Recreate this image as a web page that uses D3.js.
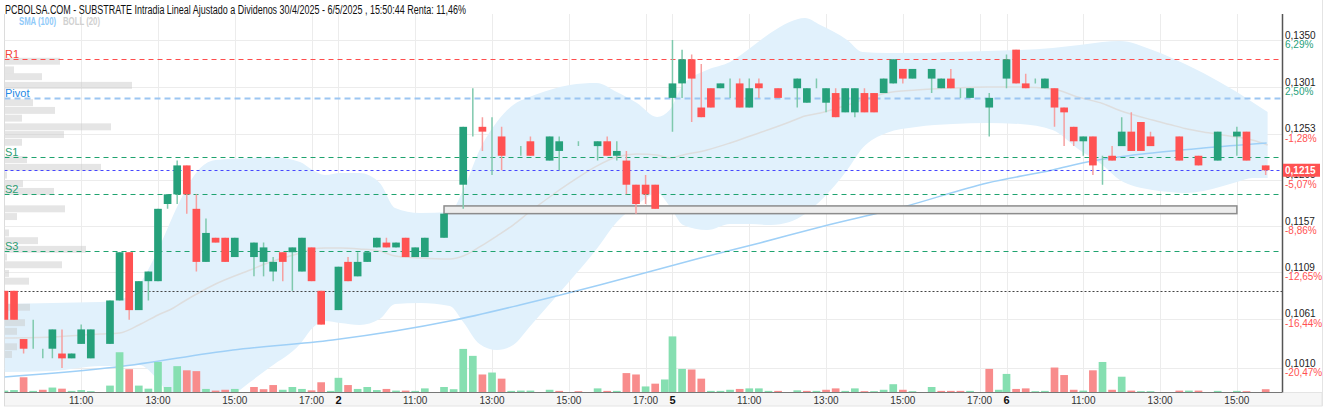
<!DOCTYPE html>
<html>
<head>
<meta charset="utf-8">
<script src="https://cdn.jsdelivr.net/npm/d3@7/dist/d3.min.js"></script>
<style>
  body { margin: 0; background: #fff; }
  svg { display: block; font-family: "Liberation Sans Narrow", "Arial Narrow", "Liberation Sans", Arial, sans-serif; }
</style>
</head>
<body>
<div id="chart"></div>
<script>
// ---- data ----
var title = "PCBOLSA.COM - SUBSTRATE Intradia Lineal Ajustado a Dividenos 30/4/2025 - 6/5/2025 , 15:50:44 Renta: 11,46%";
var days = ["1", "2", "5", "6"];
var slotsPerDay = 34.8;   // 15 min slots from 9:00, plus the overnight break

// [slot, open, high, low, close, volume]
var day1 = [
  [0, .1090, .1090, .1060, .1060, 5], [1, .1090, .1090, .1060, .1060, 7],
  [2, .1040, .1040, .1025, .1030, 53], [3, .1040, .1060, .1030, .1040, 4],
  [4, .1025, .1030, .1020, .1025, 8], [5, .1030, .1050, .1020, .1050, 16],
  [6, .1025, .1050, .1010, .1020, 12], [7, .1020, .1025, .1020, .1025, 4],
  [8, .1035, .1055, .1035, .1050, 7], [9, .1020, .1050, .1020, .1050, 3],
  [11, .1035, .1080, .1035, .1080, 23], [12, .1080, .1130, .1080, .1130, 143],
  [13, .1130, .1130, .1060, .1070, 82], [14, .1070, .1100, .1070, .1100, 23],
  [15, .1100, .1110, .1080, .1110, 12], [16, .1100, .1175, .1100, .1175, 108],
  [17, .1180, .1190, .1175, .1190, 18], [18, .1190, .1225, .1180, .1220, 93],
  [19, .1220, .1220, .1170, .1190, 78], [20, .1175, .1190, .1110, .1120, 75],
  [21, .1120, .1165, .1120, .1150, 11], [22, .1145, .1145, .1140, .1140, 5],
  [23, .1145, .1145, .1120, .1120, 8], [24, .1125, .1145, .1125, .1145, 11],
  [26, .1125, .1140, .1105, .1140, 18], [27, .1120, .1140, .1105, .1135, 10],
  [28, .1110, .1125, .1100, .1120, 25], [29, .1130, .1130, .1100, .1120, 8],
  [30, .1130, .1135, .1090, .1135, 18], [31, .1110, .1145, .1110, .1145, 11],
  [32, .1135, .1135, .1100, .1100, 6], [33, .1090, .1090, .1055, .1055, 35],
  [34, .1055, .1055, .1055, .1055, 4]
];
var day2 = [
  [0, .1070, .1115, .1070, .1115, 51], [1, .1120, .1125, .1100, .1100, 25],
  [2, .1105, .1130, .1105, .1120, 11], [3, .1120, .1130, .1120, .1130, 18],
  [4, .1135, .1145, .1135, .1145, 7], [5, .1140, .1145, .1135, .1135, 11],
  [6, .1135, .1140, .1135, .1140, 5], [7, .1145, .1145, .1125, .1125, 5],
  [8, .1125, .1135, .1125, .1135, 4], [9, .1125, .1145, .1125, .1145, 13],
  [11, .1145, .1170, .1145, .1170, 18], [12, .1170, .1170, .1170, .1170, 10],
  [13, .1200, .1260, .1175, .1260, 155], [14, .1260, .1300, .1250, .1260, 130],
  [15, .1260, .1270, .1235, .1255, 63], [16, .1255, .1270, .1210, .1255, 70],
  [17, .1250, .1260, .1215, .1230, 48], [18, .1230, .1230, .1230, .1230, 4],
  [19, .1230, .1240, .1230, .1230, 5], [20, .1245, .1250, .1230, .1230, 5],
  [22, .1225, .1250, .1225, .1250, 8], [23, .1235, .1250, .1215, .1245, 4],
  [25, .1240, .1245, .1240, .1240, 3], [27, .1240, .1245, .1225, .1245, 13],
  [28, .1245, .1250, .1230, .1230, 4], [29, .1230, .1245, .1225, .1235, 4],
  [30, .1225, .1235, .1190, .1200, 68], [31, .1200, .1200, .1170, .1180, 63],
  [32, .1200, .1210, .1180, .1190, 20], [33, .1200, .1200, .1175, .1175, 30],
  [34, .1175, .1175, .1175, .1175, 45]
];
var day5 = [
  [0, .1290, .1350, .1255, .1305, 200], [1, .1305, .1340, .1290, .1330, 83],
  [2, .1330, .1335, .1265, .1310, 81], [3, .1280, .1325, .1270, .1270, 48],
  [4, .1300, .1300, .1280, .1280, 4], [5, .1300, .1305, .1300, .1305, 4],
  [6, .1305, .1310, .1290, .1305, 8], [7, .1305, .1310, .1280, .1280, 11],
  [8, .1280, .1310, .1280, .1300, 13], [9, .1305, .1310, .1290, .1300, 13],
  [10, .1300, .1300, .1300, .1300, 4], [11, .1300, .1300, .1290, .1290, 4],
  [13, .1300, .1310, .1280, .1310, 6], [14, .1285, .1300, .1285, .1300, 4],
  [15, .1305, .1310, .1300, .1305, 4], [16, .1285, .1300, .1275, .1300, 8],
  [17, .1295, .1300, .1270, .1270, 13], [18, .1275, .1300, .1275, .1300, 4],
  [19, .1275, .1300, .1270, .1300, 13], [20, .1295, .1300, .1275, .1275, 3],
  [21, .1295, .1295, .1275, .1275, 3], [22, .1295, .1310, .1295, .1310, 8],
  [23, .1305, .1330, .1305, .1330, 28], [24, .1320, .1320, .1305, .1310, 8],
  [25, .1310, .1320, .1310, .1320, 3], [27, .1310, .1320, .1295, .1320, 18],
  [28, .1300, .1310, .1300, .1310, 4], [29, .1310, .1320, .1300, .1300, 4],
  [30, .1295, .1300, .1290, .1295, 4], [31, .1290, .1300, .1290, .1300, 4],
  [33, .1280, .1295, .1250, .1290, 83], [34, .1290, .1290, .1290, .1290, 8]
];
var day6 = [
  [0, .1310, .1335, .1300, .1330, 65], [1, .1340, .1340, .1305, .1305, 11],
  [2, .1305, .1315, .1300, .1300, 13], [3, .1305, .1310, .1305, .1305, 3],
  [4, .1300, .1310, .1300, .1310, 4], [5, .1300, .1300, .1260, .1280, 88],
  [6, .1280, .1280, .1240, .1275, 61], [7, .1260, .1260, .1240, .1245, 8],
  [8, .1245, .1250, .1230, .1250, 5], [9, .1250, .1250, .1210, .1220, 78],
  [10, .1230, .1230, .1200, .1230, 108], [11, .1230, .1240, .1225, .1225, 8],
  [12, .1240, .1270, .1240, .1255, 55], [13, .1255, .1275, .1235, .1235, 5],
  [14, .1265, .1265, .1235, .1235, 3], [15, .1250, .1255, .1240, .1240, 3],
  [18, .1250, .1250, .1225, .1225, 5], [19, .1225, .1225, .1225, .1225, 5],
  [20, .1230, .1230, .1220, .1220, 5], [22, .1225, .1255, .1225, .1255, 4],
  [24, .1250, .1260, .1230, .1255, 4], [25, .1255, .1255, .1225, .1225, 3],
  [27, .1220, .1220, .1210, .1215, 10]
];

// bollinger (20) and sma (100), sampled along the slot index
var bollG = [0, 5, 10, 12, 14, 16, 17.6, 18.6, 20.4, 22, 25.6, 27.7, 30.8, 32.1, 33.4, 35, 37, 39.1, 40.7, 43.3,
  46.4, 47.8, 49.5, 51.3, 53, 54.7, 56.8, 58.9, 61.7, 63.8, 65.9, 68, 69.3, 70.7, 73.2, 75.6, 77.7, 79.8, 81.8, 83.4,
  85, 87.8, 89.4, 91.9, 95, 98.8, 102.4, 105.8, 109.2, 112, 114.4, 116.2, 119.6, 121.4, 123, 124.9, 126.6, 128.4, 130, 131.6];
var bollUp = [0.10763, 0.10774, 0.10784, 0.10805, 0.10960, 0.11323, 0.11686, 0.11893, 0.12173, 0.12256,
  0.12277, 0.12287, 0.12235, 0.12152, 0.12101, 0.12121, 0.12121, 0.12018, 0.11759, 0.11707,
  0.11717, 0.11945, 0.12360, 0.12650, 0.12826, 0.12909, 0.12982, 0.13034, 0.13054, 0.12961,
  0.12847, 0.12702, 0.12774, 0.13034, 0.13189, 0.13272, 0.13417, 0.13572, 0.13687, 0.13728,
  0.13655, 0.13500, 0.13376, 0.13365, 0.13365, 0.13376, 0.13386, 0.13396, 0.13417, 0.13448,
  0.13479, 0.13490, 0.13396, 0.13324, 0.13251, 0.13158, 0.13065, 0.12961, 0.12857, 0.12754];
var bollLow = [0.10058, 0.10069, 0.10121, 0.10121, 0.10131, 0.09975, 0.09758, 0.09675, 0.09602, 0.09685,
  0.09955, 0.10110, 0.10349, 0.10515, 0.10587, 0.10566, 0.10546, 0.10608, 0.10763, 0.10774,
  0.10743, 0.10577, 0.10349, 0.10286, 0.10338, 0.10525, 0.10763, 0.11002, 0.11333, 0.11613,
  0.11790, 0.11914, 0.11779, 0.11582, 0.11530, 0.11593, 0.11593, 0.11582, 0.11613, 0.11696,
  0.11831, 0.12152, 0.12380, 0.12536, 0.12598, 0.12629, 0.12640, 0.12629, 0.12567, 0.12360,
  0.12204, 0.12049, 0.11945, 0.11924, 0.11914, 0.11935, 0.11976, 0.12028, 0.12069, 0.12069];
var smaG = [0, 11.7, 23.8, 34.2, 46.4, 53.7, 62, 72.5, 78.7, 85, 93.6, 102.4, 109.2, 112.8, 119.6, 124.9, 131.5];
var smaVal = [0.10007, 0.10110, 0.10287, 0.10390, 0.10587, 0.10753, 0.10960, 0.11240, 0.11396, 0.11562,
  0.11769, 0.12018, 0.12152, 0.12235, 0.12329, 0.12380, 0.12432];

// volume by price (left histogram)
var profPrice = [0.1328, 0.1319, 0.1312, 0.1303, 0.1285, 0.1277, 0.1269, 0.1260, 0.1252, 0.1244, 0.1226, 0.1218,
  0.1210, 0.1201, 0.1193, 0.1175, 0.1167, 0.1150, 0.1142, 0.1133, 0.1125, 0.1117, 0.1108, 0.1100, 0.1073,
  0.1057, 0.1048, 0.1032, 0.1024];
var profVol = [55, 9, 37, 127, 28, 50, 17, 106, 59, 17, 22, 96, 2, 18, 49, 60, 12, 4, 33, 81, 2, 57, 4, 24, 25, 20, 12, 12, 7];

// pivots and reference lines
var pivotNames = ["R1", "Pivot", "S1", "S2", "S3"];
var pivotValues = [0.1330, 0.1290, 0.1229, 0.1190, 0.1131];
var openPrice = 0.1090;
var lastPrice = 0.1215;

// gap box: from day 2 slot 11 to day 6 slot 24
var boxFrom = [1, 11], boxTo = [3, 24];
var boxTop = 0.1178, boxBottom = 0.1170;

// axes
var priceTicks = [0.1350, 0.1301, 0.1253, 0.1205, 0.1157, 0.1109, 0.1061, 0.1010];
var pctLabels = ["6,29%", "2,50%", "-1,28%", "-5,07%", "-8,86%", "-12,65%", "-16,44%", "-20,47%"];
var timeSlots = [8, 16, 24, 32];
var timeLabels = ["11:00", "13:00", "15:00", "17:00"];

// ---- chart ----
var W = 1326, H = 411;
var pLeft = 4.5, pRight = 1282, pTop = 14, pBottom = 392;
var green = "#26a17b", red = "#ff5252";

var x = d3.scaleLinear().domain([0, 133.1]).range([4.4, pRight]);
var y = d3.scaleLinear().domain([0.1010, 0.1350]).range([368, 40]);
var vy = d3.scaleLinear().domain([0, 200]).range([pBottom, pBottom - 55.6]);
var pw = d3.scaleLinear().domain([0, 127]).range([0, 127]);
var bw = x(0.8) - x(0);

var candles = [];
[day1, day2, day5, day6].forEach(function (rows, d) {
  rows.forEach(function (r) {
    candles.push({g: d * slotsPerDay + r[0], o: r[1], h: r[2], l: r[3], c: r[4], v: r[5]});
  });
});
candles.forEach(function (d, i) {
  d.up = i === 0 || d.c >= candles[i - 1].c;
});

var svg = d3.select("#chart").append("svg")
  .attr("width", W)
  .attr("height", H);

svg.append("defs").append("clipPath")
  .attr("id", "clip")
  .append("rect")
  .attr("x", pLeft).attr("y", pTop)
  .attr("width", pRight - pLeft).attr("height", pBottom - pTop);

// bottom strip and frame
svg.append("rect")
  .attr("x", pLeft).attr("y", pBottom + 0.5)
  .attr("width", 1322 - pLeft).attr("height", 13.5)
  .attr("fill", "#f6f6f6").attr("stroke", "#e4e4e4");
svg.append("line")
  .attr("x1", pLeft).attr("x2", pLeft).attr("y1", pTop).attr("y2", pBottom + 14)
  .attr("stroke", "#dcdcdc");
svg.append("line")
  .attr("x1", 1322.5).attr("x2", 1322.5).attr("y1", 0).attr("y2", pBottom + 14)
  .attr("stroke", "#e4e4e4");

var plot = svg.append("g").attr("clip-path", "url(#clip)");

// grid
var vLines = [];
days.forEach(function (d, i) {
  if (i > 0) vLines.push(i * slotsPerDay);
  timeSlots.forEach(function (s) { vLines.push(i * slotsPerDay + s); });
});
plot.selectAll("line.vgrid")
  .data(vLines)
  .enter().append("line")
  .attr("class", "vgrid")
  .attr("x1", function (d) { return Math.round(x(d)) + 0.5; })
  .attr("x2", function (d) { return Math.round(x(d)) + 0.5; })
  .attr("y1", pTop).attr("y2", pBottom)
  .attr("stroke", "#ececec");
plot.selectAll("line.hgrid")
  .data(priceTicks)
  .enter().append("line")
  .attr("class", "hgrid")
  .attr("x1", pLeft).attr("x2", pRight)
  .attr("y1", function (d) { return Math.round(y(d)) + 0.5; })
  .attr("y2", function (d) { return Math.round(y(d)) + 0.5; })
  .attr("stroke", "#ececec");

// bollinger band
var band = bollG.map(function (g, i) { return {g: g, u: bollUp[i], l: bollLow[i]}; });
plot.append("path")
  .datum(band)
  .attr("fill", "#e1f1fc")
  .attr("d", d3.area()
    .curve(d3.curveMonotoneX)
    .x(function (d) { return x(d.g); })
    .y0(function (d) { return y(d.l); })
    .y1(function (d) { return y(d.u); }));
plot.append("path")
  .datum(band)
  .attr("fill", "none")
  .attr("stroke", "#dedede")
  .attr("stroke-width", 1.5)
  .attr("d", d3.line()
    .curve(d3.curveMonotoneX)
    .x(function (d) { return x(d.g); })
    .y(function (d) { return y((d.u + d.l) / 2); }));

// sma 100
plot.append("path")
  .datum(smaG.map(function (g, i) { return [g, smaVal[i]]; }))
  .attr("fill", "none")
  .attr("stroke", "#9fd0f7")
  .attr("stroke-width", 1.5)
  .attr("d", d3.line()
    .curve(d3.curveMonotoneX)
    .x(function (d) { return x(d[0]); })
    .y(function (d) { return y(d[1]); }));

// volume profile
var binH = y(0.1010) - y(0.10172);
plot.selectAll("rect.prof")
  .data(profPrice)
  .enter().append("rect")
  .attr("class", "prof")
  .attr("x", 5)
  .attr("y", function (d) { return y(d) - binH / 2; })
  .attr("width", function (d, i) { return pw(profVol[i]); })
  .attr("height", binH)
  .attr("fill", "#c8c8c8")
  .attr("fill-opacity", 0.48);

// volume bars
plot.selectAll("rect.vol")
  .data(candles)
  .enter().append("rect")
  .attr("class", "vol")
  .attr("x", function (d) { return x(d.g) - bw / 2; })
  .attr("y", function (d) { return vy(d.v); })
  .attr("width", bw)
  .attr("height", function (d) { return pBottom - vy(d.v); })
  .attr("fill", function (d) { return d.up ? "#86dfb1" : "#f88c8c"; });

// reference lines
plot.append("line")
  .attr("x1", pLeft).attr("x2", pRight)
  .attr("y1", Math.round(y(openPrice)) + 0.5).attr("y2", Math.round(y(openPrice)) + 0.5)
  .attr("stroke", "#444").attr("stroke-dasharray", "2,2");
plot.append("line")
  .attr("x1", pLeft).attr("x2", pRight)
  .attr("y1", Math.round(y(lastPrice)) + 0.5).attr("y2", Math.round(y(lastPrice)) + 0.5)
  .attr("stroke", "#4646ff").attr("stroke-dasharray", "3,3");

var pivotColor = function (name) {
  return name === "R1" ? "#ff4d4d" : name === "Pivot" ? "#9cc6f2" : "#1fa36f";
};
plot.selectAll("line.pivot")
  .data(pivotValues)
  .enter().append("line")
  .attr("class", "pivot")
  .attr("x1", pLeft).attr("x2", pRight)
  .attr("y1", function (d) { return Math.round(y(d)) + 0.5; })
  .attr("y2", function (d) { return Math.round(y(d)) + 0.5; })
  .attr("stroke", function (d, i) { return pivotColor(pivotNames[i]); })
  .attr("stroke-width", function (d, i) { return pivotNames[i] === "Pivot" ? 2 : 1.2; })
  .attr("stroke-dasharray", function (d, i) { return pivotNames[i] === "Pivot" ? "6,4" : "5,4"; });

// gap box
var bx0 = x(boxFrom[0] * slotsPerDay + boxFrom[1]),
  bx1 = x(boxTo[0] * slotsPerDay + boxTo[1]);
plot.append("rect")
  .attr("x", bx0)
  .attr("y", y(boxTop))
  .attr("width", bx1 - bx0)
  .attr("height", y(boxBottom) - y(boxTop))
  .attr("fill", "#ededed")
  .attr("stroke", "#8c8c8c")
  .attr("stroke-width", 1.5);

// candles
var cg = plot.selectAll("g.candle")
  .data(candles)
  .enter().append("g")
  .attr("class", "candle");
cg.append("line")
  .attr("x1", function (d) { return x(d.g); })
  .attr("x2", function (d) { return x(d.g); })
  .attr("y1", function (d) { return y(d.h); })
  .attr("y2", function (d) { return y(d.l); })
  .attr("stroke", function (d) { return d.c >= d.o ? "#7fc9ad" : "#f6a0a0"; })
  .attr("stroke-width", 1.5);
cg.append("rect")
  .attr("x", function (d) { return x(d.g) - bw / 2; })
  .attr("y", function (d) { return y(Math.max(d.o, d.c)); })
  .attr("width", bw)
  .attr("height", function (d) { return Math.max(0.8, Math.abs(y(d.o) - y(d.c))); })
  .attr("fill", function (d) { return d.c >= d.o ? green : red; })
  .attr("fill-opacity", function (d) { return d.o === d.c ? 0 : 1; });

// pivot labels
svg.selectAll("text.pivot")
  .data(pivotValues)
  .enter().append("text")
  .attr("class", "pivot")
  .attr("x", 5)
  .attr("y", function (d) { return y(d) - 1; })
  .attr("font-size", 11)
  .attr("fill", function (d, i) { return pivotNames[i] === "R1" ? "#f44336" : pivotNames[i] === "Pivot" ? "#1e88e5" : "#2e9e74"; })
  .text(function (d, i) { return pivotNames[i]; });

// axes lines
svg.append("line")
  .attr("x1", pLeft).attr("x2", pRight).attr("y1", pBottom + 0.5).attr("y2", pBottom + 0.5)
  .attr("stroke", "#777");
svg.append("line")
  .attr("x1", pRight + 0.5).attr("x2", pRight + 0.5).attr("y1", pTop).attr("y2", pBottom + 0.5)
  .attr("stroke", "#555").attr("stroke-width", 1.5);

// price axis
var pa = svg.append("g").attr("font-size", 10);
pa.selectAll("text.price")
  .data(priceTicks)
  .enter().append("text")
  .attr("class", "price")
  .attr("x", pRight + 3)
  .attr("y", function (d) { return y(d) - 1.5; })
  .attr("fill", "#222")
  .text(function (d) { return d3.format(".4f")(d).replace(".", ","); });
pa.selectAll("text.pct")
  .data(priceTicks)
  .enter().append("text")
  .attr("class", "pct")
  .attr("x", pRight + 3)
  .attr("y", function (d) { return y(d) + 8; })
  .attr("fill", function (d, i) { return pctLabels[i].charAt(0) === "-" ? red : green; })
  .text(function (d, i) { return pctLabels[i]; });

// last price tag
svg.append("rect")
  .attr("x", pRight + 1).attr("y", y(lastPrice) - 6.5)
  .attr("width", 37).attr("height", 13)
  .attr("fill", red);
svg.append("text")
  .attr("x", pRight + 3).attr("y", y(lastPrice) + 4)
  .attr("font-size", 10).attr("font-weight", "bold")
  .attr("fill", "#fff")
  .text(d3.format(".4f")(lastPrice).replace(".", ","));

// time axis
var tl = [];
days.forEach(function (d, i) {
  timeSlots.forEach(function (s, j) { tl.push({g: i * slotsPerDay + s, t: timeLabels[j], day: false}); });
  if (i > 0) tl.push({g: i * slotsPerDay, t: d, day: true});
});
svg.selectAll("text.time")
  .data(tl.filter(function (d) { return x(d.g) < pRight - 12; }))
  .enter().append("text")
  .attr("class", "time")
  .attr("x", function (d) { return x(d.g); })
  .attr("y", 404)
  .attr("text-anchor", "middle")
  .attr("font-size", function (d) { return d.day ? 11 : 10; })
  .attr("font-weight", function (d) { return d.day ? "bold" : "normal"; })
  .attr("fill", function (d) { return d.day ? "#111" : "#333"; })
  .text(function (d) { return d.t; });

// title and legend
svg.append("text")
  .attr("x", 5).attr("y", 14)
  .attr("font-family", "'Liberation Sans', Arial, sans-serif")
  .attr("font-size", 12)
  .attr("fill", "#111")
  .attr("textLength", 461)
  .attr("lengthAdjust", "spacingAndGlyphs")
  .text(title);
svg.append("text")
  .attr("x", 19).attr("y", 25)
  .attr("font-size", 10).attr("font-weight", "bold")
  .attr("fill", "#90caf9")
  .attr("textLength", 37)
  .attr("lengthAdjust", "spacingAndGlyphs")
  .text("SMA (100)");
svg.append("text")
  .attr("x", 63).attr("y", 25)
  .attr("font-size", 10).attr("font-weight", "bold")
  .attr("fill", "#d0d0d0")
  .attr("textLength", 37)
  .attr("lengthAdjust", "spacingAndGlyphs")
  .text("BOLL (20)");
</script>
</body>
</html>
